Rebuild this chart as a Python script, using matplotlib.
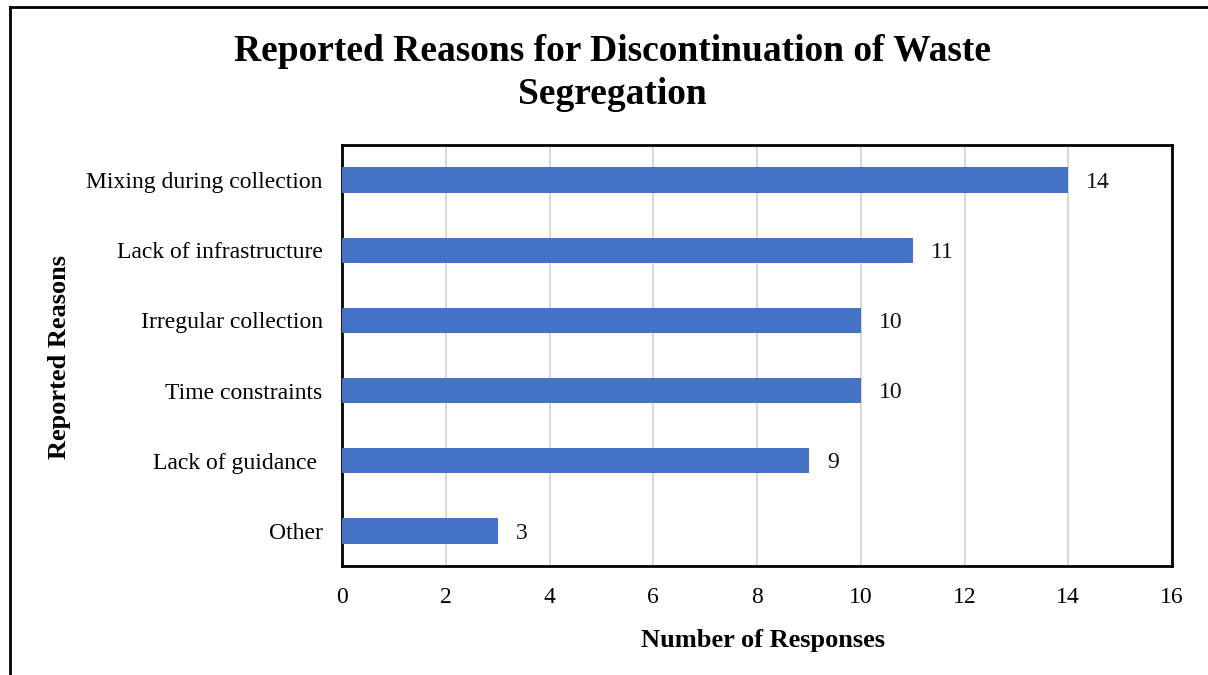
import matplotlib
matplotlib.use("Agg")
import matplotlib.pyplot as plt
from matplotlib.lines import Line2D

categories = ["Mixing during collection", "Lack of infrastructure", "Irregular collection",
              "Time constraints", "Lack of guidance ", "Other"]
values = [14, 11, 10, 10, 9, 3]
xticks = [0, 2, 4, 6, 8, 10, 12, 14, 16]

plt.rcParams['font.family'] = ['Liberation Serif', 'DejaVu Serif']

fig = plt.figure(figsize=(12.08, 6.75), dpi=100)
ax = fig.add_axes([342/1208, 1-566/675, (1172-342)/1208, (566-145)/675])

ypos = list(range(len(categories)))[::-1]
ax.barh(ypos, values, height=0.36, color='#4472C4', zorder=3)
for y, v in zip(ypos, values):
    ax.text(v + 0.35, y - 0.03, str(v), va='center', ha='left', fontsize=17, color='#111111')

ax.set_xlim(0, 16)
ax.set_ylim(-0.5, 5.5)
ax.set_xticks(xticks)
ax.set_xticklabels([str(t) for t in xticks], fontsize=17)
ax.set_yticks(ypos)
ax.set_yticklabels(categories, fontsize=17)
ax.tick_params(axis='x', length=0, pad=15)
ax.tick_params(axis='y', length=0, pad=14)
ax.grid(axis='x', color='#d9d9d9', linewidth=1.5, zorder=0)
for s in ax.spines.values():
    s.set_linewidth(2)
    s.set_color('black')

fig.text(763/1208, 1-640/675, "Number of Responses", ha='center', va='center',
         fontsize=19, fontweight='bold')
fig.text(60/1208, 1-357/675, "Reported Reasons", rotation=90, ha='center', va='center',
         fontsize=19, fontweight='bold')

fig.text(612/1208, 1-73/675, "Reported Reasons for Discontinuation of Waste\nSegregation",
         ha='center', va='center', fontsize=27, fontweight='bold', linespacing=1.3)

fig.add_artist(Line2D([10/1208, 10/1208], [0, 1-7/675], transform=fig.transFigure, color='black', linewidth=2))
fig.add_artist(Line2D([10/1208, 1], [1-7/675, 1-7/675], transform=fig.transFigure, color='black', linewidth=2))

fig.savefig("out.png", dpi=100)
